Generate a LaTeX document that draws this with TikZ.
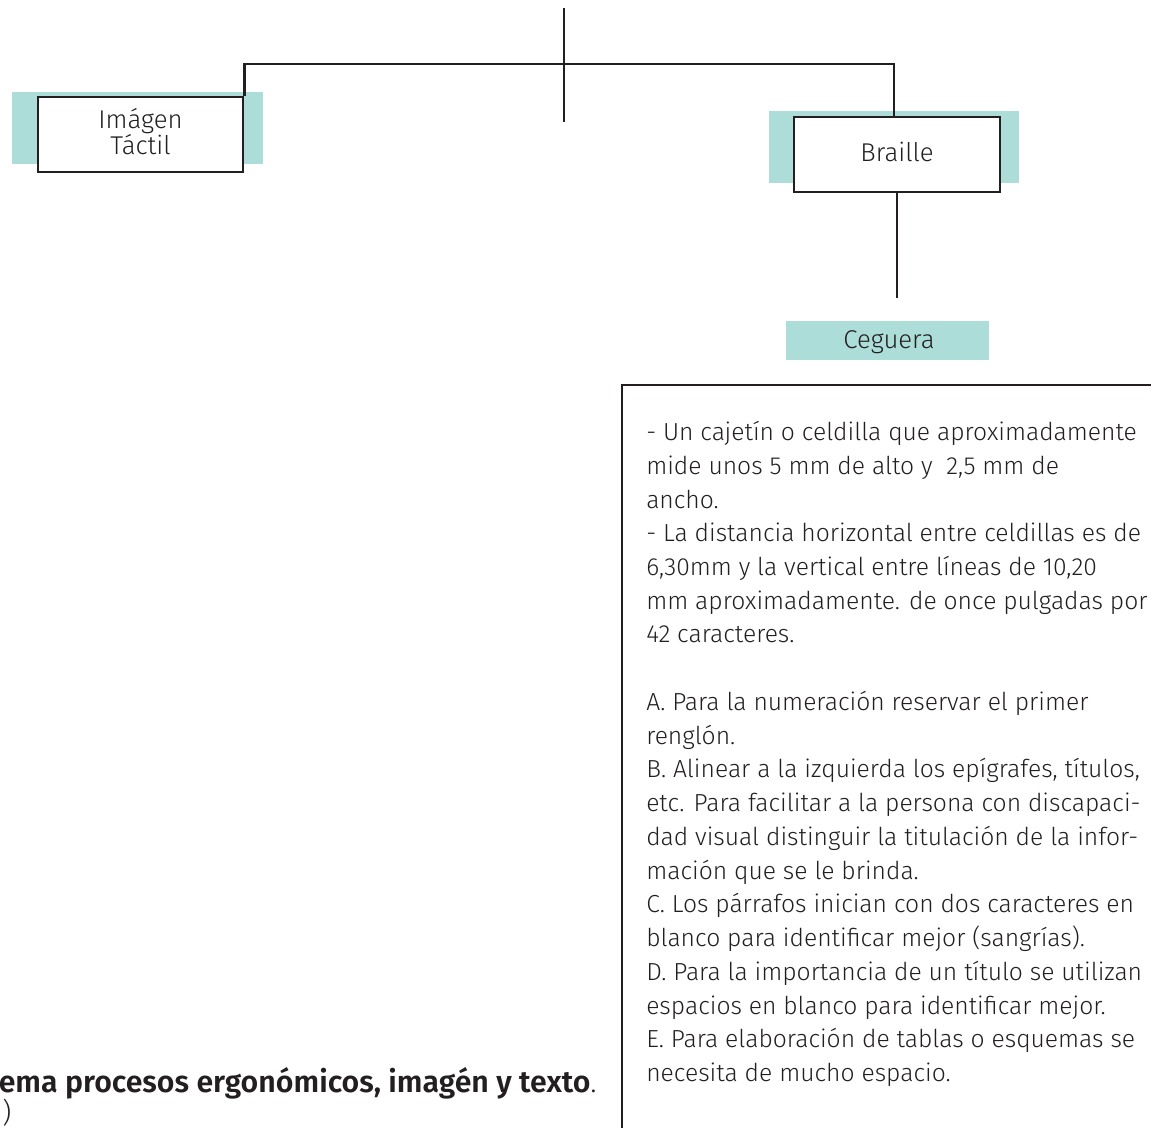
\documentclass[tikz,border=0pt]{standalone}
\usepackage{fontspec}
\setmainfont{Fira Sans}[UprightFont=* Light, BoldFont=* SemiBold]
\definecolor{teal}{HTML}{ADDDD8}
\definecolor{ink}{HTML}{231F20}
\begin{document}
\begin{tikzpicture}[x=0.75pt,y=-0.75pt,
  link/.style={draw=ink,line width=1.9pt},
  framebox/.style={draw=ink,line width=1.9pt,fill=white,inner sep=0pt,
    minimum width=#1*0.75pt,minimum height=75*0.75pt},
  labeltext/.style={text=ink,align=center,inner sep=0pt,
    font=\fontsize{19.3}{20}\selectfont},
  tealbg/.style={fill=teal},
  bodytext/.style={anchor=north west,align=left,inner sep=0pt,text=ink,
    font=\fontsize{18.5}{25.3}\selectfont}]
\useasboundingbox (0,0) rectangle (1151,1127);

% teal backdrops behind the framed labels
\fill[tealbg] (12,92) rectangle (263,164);
\fill[tealbg] (769,111) rectangle (1019,183);

% framed labels
\node[framebox=205] (img) at (140.5,134.5) {};
\node[labeltext] (imgtxt) at (140.5,131.5) {Imágen\\Táctil};
\node[framebox=206] (brl) at (897,154.5) {};
\node[labeltext] (brltxt) at (897,152) {Braille};

% Ceguera tag
\node[fill=teal,minimum width=203*0.75pt,minimum height=39*0.75pt,inner sep=0pt]
  (ceg) at (887.5,340.5) {};
\node[labeltext] (cegtxt) at (889,342) {Ceguera};

% tree connectors
\coordinate (top) at (564,8);
\coordinate (hub) at (564,64);
\coordinate (stem) at (564,122);
\coordinate (brlend) at (897,298);
\draw[link] (top) -- (stem);
\draw[link] (img.north east) |- (hub) -| (brl.north -| 894,0);
\draw[link] (brl.south) -- (brlend);

% open text frame
\coordinate (fr1) at (1160,385);
\coordinate (fr2) at (622,385);
\coordinate (fr3) at (622,1135);
\draw[link] (fr1) -- (fr2) -- (fr3);

\node[bodytext] (txt) at (646,421) {%
- Un cajetín o celdilla que aproximadamente\\
mide unos 5 mm de alto y\ \ 2,5 mm de\\
ancho.\\
- La distancia horizontal entre celdillas es de\\
6,30mm y la vertical entre líneas de 10,20\\
mm aproximadamente. de once pulgadas por\\
42 caracteres.\\
\mbox{}\\
A. Para la numeración reservar el primer\\
renglón.\\
B. Alinear a la izquierda los epígrafes, títulos,\\
etc. Para facilitar a la persona con discapaci-\\
dad visual distinguir la titulación de la infor-\\
mación que se le brinda.\\
C. Los párrafos inician con dos caracteres en\\
blanco para identificar mejor (sangrías).\\
D. Para la importancia de un título se utilizan\\
espacios en blanco para identificar mejor.\\
E. Para elaboración de tablas o esquemas se\\
necesita de mucho espacio.};

% caption
\node[anchor=base east,inner sep=0pt,text=ink,font=\fontsize{22.7}{24}\selectfont]
  (cap) at (597,1092) {\textbf{ema procesos ergonómicos, imagén y texto}.};
\node[anchor=base west,inner sep=0pt,text=ink,font=\fontsize{21}{22}\selectfont]
  (cap2) at (2,1122) {)};
\end{tikzpicture}
\end{document}
